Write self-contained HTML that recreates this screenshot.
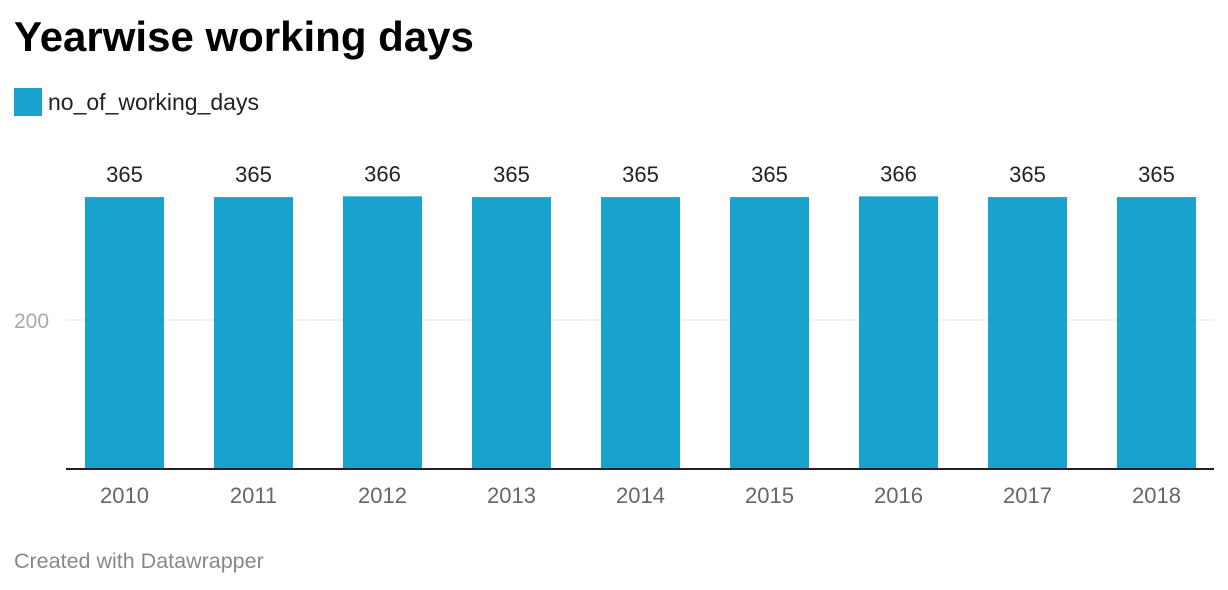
<!DOCTYPE html>
<html><head><meta charset="utf-8"><style>
body{margin:0;width:1228px;height:590px;background:#fff;font-family:"Liberation Sans",sans-serif;overflow:hidden;position:relative}
</style></head><body>
<div style="position:absolute;left:14px;top:13px;font-size:42px;font-weight:bold;color:#000;letter-spacing:0px">Yearwise working days</div>
<div style="position:absolute;left:14px;top:88px;height:28px;display:flex;align-items:center">
<div style="width:28px;height:28px;background:#1aa2cf"></div>
<span style="margin-left:6px;font-size:23px;color:#222">no_of_working_days</span></div>
<svg id="chart" width="1228" height="590" style="position:absolute;left:0;top:0"></svg>
<div style="position:absolute;left:14px;top:549px;font-size:21.5px;color:#888">Created with Datawrapper</div>
<script>
const categories=["2010","2011","2012","2013","2014","2015","2016","2017","2018"];
const values=[365,365,366,365,365,365,366,365,365];
const yTicks=[200];
const NS="http://www.w3.org/2000/svg";
const svg=document.getElementById('chart');
const base=469,scale=149/200;
const y=v=>base-v*scale;
const x=i=>124.5+i*129;
const bw=79;
function mk(t,a){const e=document.createElementNS(NS,t);for(const k in a)e.setAttribute(k,a[k]);svg.appendChild(e);return e;}
yTicks.forEach(t=>{
 const g=mk('line',{x1:66,x2:1214,y1:y(t),y2:y(t),stroke:'#e3e3e3','stroke-width':1});
 
 
 const l=mk('text',{x:14,y:y(t)+8,'font-size':21,fill:'#aaa','font-family':'Liberation Sans'});
 l.textContent=t;
 
 
});
values.forEach((v,i)=>{
 const r=mk('rect',{x:x(i)-bw/2,y:y(v),width:bw,height:base-y(v),fill:'#1aa2cf'});
 
 
 const t=mk('text',{x:x(i),y:y(v)-15,'text-anchor':'middle','font-size':22,fill:'#222','font-family':'Liberation Sans'});
 t.textContent=v;
 
 
 const c=mk('text',{x:x(i),y:503,'text-anchor':'middle','font-size':22,fill:'#666','font-family':'Liberation Sans'});
 c.textContent=categories[i];
 
 
});
const ax=mk('line',{x1:66,x2:1214,y1:base,y2:base,stroke:'#222','stroke-width':2});


</script>
</body></html>
